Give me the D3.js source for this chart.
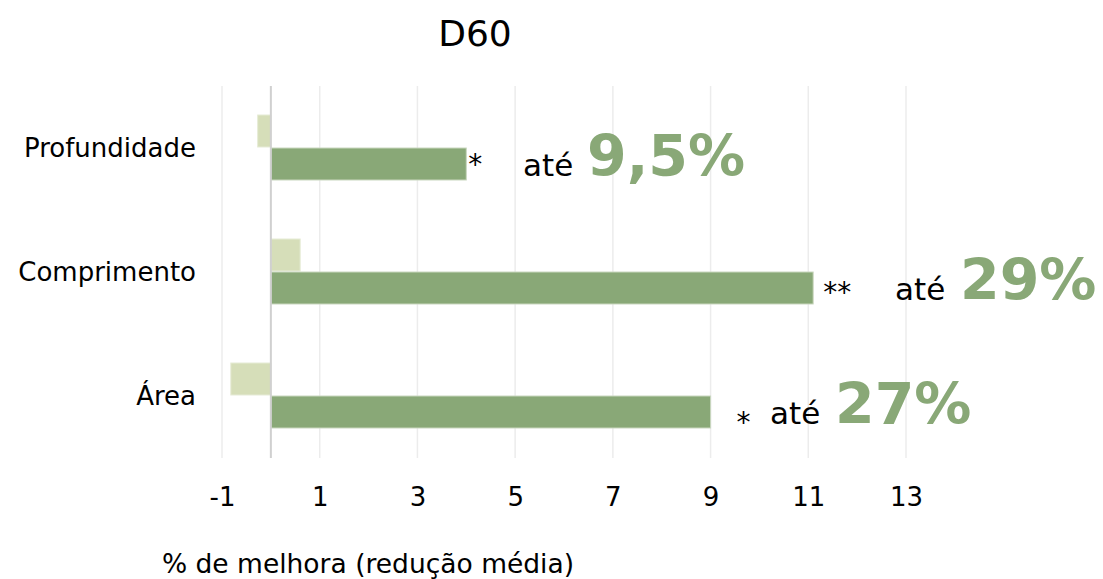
<!DOCTYPE html>
<html>
<head>
<meta charset="utf-8">
<script src="https://cdn.jsdelivr.net/npm/d3@7"></script>
<style>
  body { margin: 0; background: #ffffff; }
  text { font-family: "DejaVu Sans", Verdana, sans-serif; }
</style>
</head>
<body>
<svg id="chart" width="1103" height="579"></svg>
<script>
// chart values
var categories = ["Profundidade", "Comprimento", "Área"];
var controlValues = [-0.27, 0.6, -0.82];
var treatedValues = [4.0, 11.1, 9.0];
var stars = ["*", "**", "*"];
var upTo = ["9,5%", "29%", "27%"];
var tickValues = [-1, 1, 3, 5, 7, 9, 11, 13];

var svg = d3.select("#chart");
var lightGreen = "#d6deb9";
var darkGreen = "#89a877";

var x = d3.scaleLinear().domain([-1, 13]).range([222, 906]);
var y = d3.scaleBand().domain(categories).range([86, 458]).paddingInner(0).paddingOuter(0);

// title
svg.append("text")
  .attr("x", 475).attr("y", 46)
  .attr("text-anchor", "middle")
  .style("font-size", "36px")
  .text("D60");

// grid lines
svg.append("g").selectAll("line")
  .data(tickValues)
  .enter().append("line")
    .attr("x1", function(d) { return x(d); })
    .attr("x2", function(d) { return x(d); })
    .attr("y1", 86).attr("y2", 458)
    .attr("stroke", "#ececec")
    .attr("stroke-width", 1.5);

// x axis labels
var xAxis = d3.axisBottom(x).tickValues(tickValues).tickSize(0).tickPadding(0)
  .tickFormat(function(d) { return String(d); });
var ax = svg.append("g").attr("transform", "translate(0,506)").call(xAxis);
ax.select(".domain").remove();
ax.selectAll("text")
  .attr("dy", 0)
  .style("font-size", "26px")
  .style("font-family", "'DejaVu Sans', Verdana, sans-serif")
  .attr("fill", "#000");

// category labels
svg.append("g").selectAll("text")
  .data(categories)
  .enter().append("text")
    .attr("x", 196)
    .attr("y", function(d) { return y(d) + y.bandwidth() / 2 + 9; })
    .attr("text-anchor", "end")
    .style("font-size", "26px")
    .text(function(d) { return d; });

var barH = 32;

// control bars (light)
svg.append("g").selectAll("rect")
  .data(controlValues)
  .enter().append("rect")
    .attr("x", function(d) { return x(Math.min(0, d)); })
    .attr("y", function(d, i) { return y(categories[i]) + y.bandwidth() / 2 - barH - 1; })
    .attr("width", function(d) { return Math.abs(x(d) - x(0)); })
    .attr("height", barH)
    .attr("fill", lightGreen)
    .attr("stroke", "#e6ebd6")
    .attr("stroke-width", 1);

// treated bars (dark)
svg.append("g").selectAll("rect")
  .data(treatedValues)
  .enter().append("rect")
    .attr("x", x(0))
    .attr("y", function(d, i) { return y(categories[i]) + y.bandwidth() / 2; })
    .attr("width", function(d) { return x(d) - x(0); })
    .attr("height", barH)
    .attr("fill", darkGreen)
    .attr("stroke", "#c9d7bf")
    .attr("stroke-width", 1);

// zero line
svg.append("line")
  .attr("x1", x(0)).attr("x2", x(0))
  .attr("y1", 86).attr("y2", 458)
  .attr("stroke", "#d0d0d0")
  .attr("stroke-width", 2);

// significance stars and "até" labels
var starDx = [2, 10, 26];
var starDy = [26, 30, 36];
var ateX = [523, 895, 770];
var pctX = [587, 960, 835];
var annot = svg.append("g");
treatedValues.forEach(function(v, i) {
  var yc = y(categories[i]) + y.bandwidth() / 2;
  annot.append("text")
    .attr("x", x(v) + starDx[i])
    .attr("y", yc + starDy[i])
    .style("font-size", "28px")
    .text(stars[i]);
  annot.append("text")
    .attr("x", ateX[i])
    .attr("y", yc + 28)
    .style("font-size", "31px")
    .text("até");
  annot.append("text")
    .attr("x", pctX[i])
    .attr("y", yc + 28)
    .style("font-size", "57px")
    .style("font-weight", "bold")
    .attr("fill", darkGreen)
    .text(upTo[i]);
});

// axis title
svg.append("text")
  .attr("x", 368).attr("y", 573)
  .attr("text-anchor", "middle")
  .style("font-size", "26.5px")
  .text("% de melhora (redução média)");
</script>
</body>
</html>
